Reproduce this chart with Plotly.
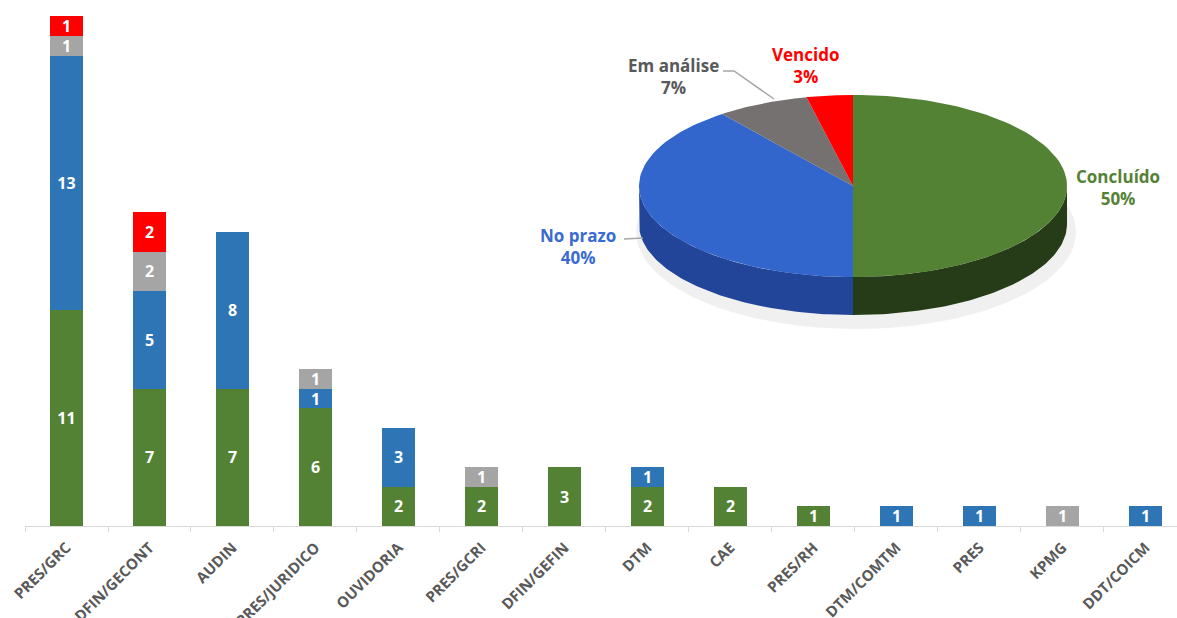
import math
import plotly.graph_objects as go

# ---------------- data ----------------
categories = ["PRES/GRC", "DFIN/GECONT", "AUDIN", "PRES/JURIDICO", "OUVIDORIA",
              "PRES/GCRI", "DFIN/GEFIN", "DTM", "CAE", "PRES/RH", "DTM/COMTM",
              "PRES", "KPMG", "DDT/COICM"]
concluido = [11, 7, 7, 6, 2, 2, 3, 2, 2, 1, 0, 0, 0, 0]
no_prazo = [13, 5, 8, 1, 3, 0, 0, 1, 0, 0, 1, 1, 0, 1]
em_analise = [1, 2, 0, 1, 0, 1, 0, 0, 0, 0, 0, 0, 1, 0]
vencido = [1, 2, 0, 0, 0, 0, 0, 0, 0, 0, 0, 0, 0, 0]
series_names = ["Concluído", "No prazo", "Em análise", "Vencido"]

# ---------------- style ----------------
W, H = 1177, 618
bar_colors = ["#548235", "#2E75B6", "#A5A5A5", "#FF0000"]
pie_top = ["#548235", "#3366CC", "#767171", "#FF0000"]
pie_side = ["#263C18", "#22459A", "#4A4646", "#A00000"]
label_colors = ["#548235", "#3A6BD0", "#595959", "#FF0000"]
FONT = "Open Sans"

series = [concluido, no_prazo, em_analise, vencido]

fig = go.Figure()

for name, vals, col in zip(series_names, series, bar_colors):
    y = [v if v else None for v in vals]
    fig.add_trace(go.Bar(
        x=categories, y=y, name=name, marker=dict(color=col, line=dict(width=0)),
        text=[str(v) if v else "" for v in vals], textposition="inside",
        insidetextanchor="middle", constraintext="none", textangle=0,
        textfont=dict(color="white", size=16, family=FONT, weight="bold"),
        showlegend=False, xaxis="x", yaxis="y"))

# ---------------- pseudo-3D pie (driven by series totals) ----------------
totals = [sum(s) for s in series]
grand = sum(totals)
cx, cy, a, b, depth = 853, 186, 214, 91, 38


def pt(theta_deg, dy=0):
    t = math.radians(theta_deg)
    return cx + a * math.cos(t), cy - b * math.sin(t) + dy


def arc(t1, t2, dy=0, n=80):
    xs, ys = [], []
    for i in range(n + 1):
        t = t1 + (t2 - t1) * i / n
        x, y = pt(t, dy)
        xs.append(x)
        ys.append(y)
    return xs, ys

# shadow
sx, sy = [], []
for i in range(121):
    t = 2 * math.pi * i / 120
    sx.append(cx + 3 + (a + 6) * math.cos(t))
    sy.append(cy + depth + 8 - (b + 6) * math.sin(t))
fig.add_trace(go.Scatter(x=sx, y=sy, fill="toself", mode="lines",
                         fillcolor="rgba(0,0,0,0.06)", line=dict(width=0),
                         hoverinfo="skip", showlegend=False, xaxis="x2", yaxis="y2"))

angles = []
start = 90.0
for v in totals:
    sweep = 360.0 * v / grand
    angles.append((start, start - sweep))
    start -= sweep

# side walls (front half only)
for (t1, t2), col in zip(angles, pie_side):
    lo, hi = max(t2, -180.0), min(t1, 0.0)
    if hi > lo:
        xs, ys = arc(hi, lo)
        xb, yb = arc(lo, hi, depth)
        fig.add_trace(go.Scatter(x=xs + xb + [xs[0]], y=ys + yb + [ys[0]],
                                 fill="toself", mode="lines", fillcolor=col,
                                 line=dict(width=0), hoverinfo="skip",
                                 showlegend=False, xaxis="x2", yaxis="y2"))

# top faces
for (t1, t2), col in zip(angles, pie_top):
    xs, ys = arc(t1, t2)
    fig.add_trace(go.Scatter(x=[cx] + xs + [cx], y=[cy] + ys + [cy],
                             fill="toself", mode="lines", fillcolor=col,
                             line=dict(width=0), hoverinfo="skip",
                             showlegend=False, xaxis="x2", yaxis="y2"))

# leader lines
fig.add_trace(go.Scatter(x=[723, 734, 774], y=[71, 71, 99], mode="lines",
                         line=dict(color="#A6A6A6", width=1.5), hoverinfo="skip",
                         showlegend=False, xaxis="x2", yaxis="y2"))
fig.add_trace(go.Scatter(x=[624, 643], y=[239, 238], mode="lines",
                         line=dict(color="#A6A6A6", width=1.5), hoverinfo="skip",
                         showlegend=False, xaxis="x2", yaxis="y2"))

label_pos = [(1118, 187), (578, 246), (673, 76), (805, 65)]
annotations = []
for name, v, (lx, ly), col in zip(series_names, totals, label_pos, label_colors):
    pct = round(100 * v / grand)
    annotations.append(dict(
        x=lx, y=ly, xref="x2", yref="y2", showarrow=False,
        text=f"{name}<br>{pct}%", align="center",
        font=dict(color=col, size=17, family=FONT, weight="bold")))

fig.update_layout(
    width=W, height=H, barmode="stack", bargap=0.6,
    margin=dict(l=0, r=0, t=0, b=0, autoexpand=False),
    paper_bgcolor="white", plot_bgcolor="rgba(0,0,0,0)",
    annotations=annotations,
    uniformtext=dict(minsize=16, mode="show"),
    xaxis=dict(domain=[25 / W, 1], range=[-0.5, 13.38], type="category",
               automargin=False,
               showline=True, linecolor="#D9D9D9", linewidth=1,
               ticks="outside", tickson="boundaries", tickcolor="#D9D9D9",
               ticklen=5, tickangle=-45, showgrid=False, zeroline=False,
               ticklabelstandoff=6,
               tickfont=dict(color="#595959", size=15, family=FONT, weight="bold")),
    yaxis=dict(domain=[92 / H, 1], range=[0, 526 / 19.6], visible=False,
               automargin=False, showgrid=False, zeroline=False),
    xaxis2=dict(domain=[0, 1], range=[0, W], visible=False,
                anchor="y2", automargin=False),
    yaxis2=dict(domain=[0, 1], range=[H, 0], visible=False,
                anchor="x2", automargin=False),
)

fig.write_html("out.html", config={"displayModeBar": False},
               post_script="document.body.style.margin='0';")
